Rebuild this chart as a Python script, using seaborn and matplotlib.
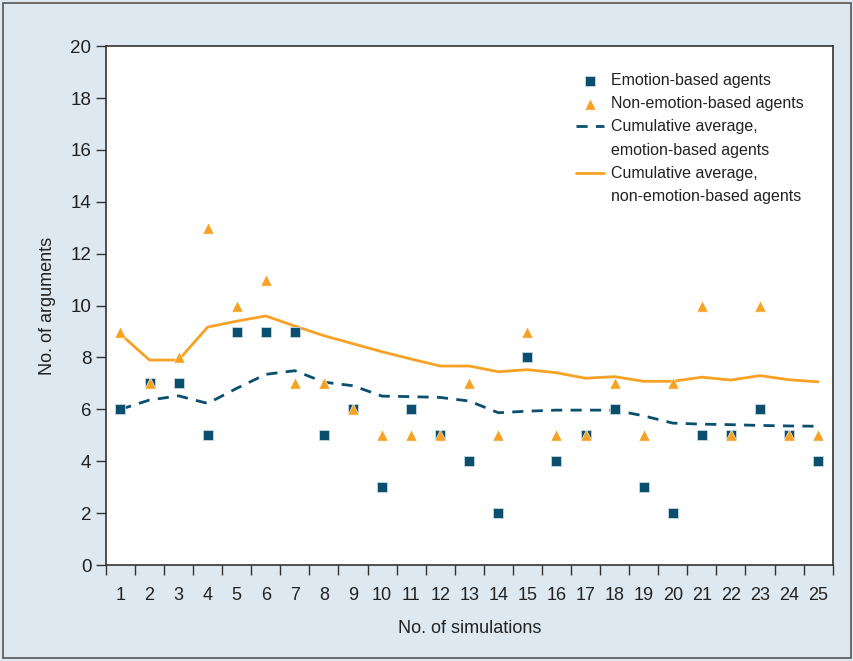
import numpy as np
import pandas as pd
import matplotlib
matplotlib.use("Agg")
import matplotlib.pyplot as plt
import seaborn as sns
from matplotlib.patches import Rectangle
from matplotlib.lines import Line2D

# ----- dados -----
simulacoes = list(range(1, 26))
emocao = [6, 7, 7, 5, 9, 9, 9, 5, 6, 3, 6, 5, 4, 2, 8, 4, 5, 6, 3, 2, 5, 5, 6, 5, 4]
sem_emocao = [9, 7, 8, 13, 10, 11, 7, 7, 6, 5, 5, 5, 7, 5, 9, 5, 5, 7, 5, 7, 10, 5, 10, 5, 5]
media_emocao = [6.0, 6.36, 6.52, 6.23, 6.81, 7.35, 7.49, 7.05, 6.91, 6.51, 6.49, 6.46, 6.32,
                5.87, 5.93, 5.97, 5.97, 5.97, 5.75, 5.47, 5.43, 5.41, 5.38, 5.36, 5.35]
media_sem_emocao = [8.9, 7.9, 7.9, 9.17, 9.4, 9.6, 9.21, 8.84, 8.53, 8.22, 7.94, 7.67, 7.67,
                    7.45, 7.53, 7.41, 7.2, 7.26, 7.08, 7.08, 7.24, 7.13, 7.3, 7.14, 7.06]

df = pd.DataFrame({
    'sim': simulacoes,
    'emocao': emocao,
    'sem_emocao': sem_emocao,
    'media_emocao': media_emocao,
    'media_sem_emocao': media_sem_emocao,
})

azul = '#0a4f6e'
laranja = '#f7a224'
fundo = '#dde8f0'

sns.set_style('ticks')
plt.rcParams['font.family'] = ['Liberation Sans', 'DejaVu Sans']

fig = plt.figure(figsize=(8.54, 6.61), dpi=100)
fig.patch.set_facecolor(fundo)
fig.patches.append(Rectangle((0.004, 0.004), 0.992, 0.992, transform=fig.transFigure,
                             fill=False, edgecolor='#555555', linewidth=1.2, zorder=0))
ax = fig.add_axes([0.124, 0.1452, 0.851, 0.785])
ax.set_facecolor('white')

sns.lineplot(data=df, x='sim', y='media_emocao', ax=ax, color=azul, linewidth=2,
             label='Cumulative average,')
ax.lines[-1].set_dashes([4, 3])
sns.lineplot(data=df, x='sim', y='media_sem_emocao', ax=ax, color=laranja, linewidth=2,
             label='Cumulative average,')
sns.scatterplot(data=df, x='sim', y='emocao', ax=ax, color=azul, marker='s', s=58,
                edgecolor='#c8d8e0', linewidth=0.6, label='Emotion-based agents', zorder=3)
sns.scatterplot(data=df, x='sim', y='sem_emocao', ax=ax, color=laranja, marker='^', s=65,
                edgecolor='white', linewidth=0.4, label='Non-emotion-based agents', zorder=4)

ax.set_xlim(0.5, 25.5)
ax.set_ylim(0, 20)
ax.set_yticks(range(0, 21, 2))
ax.set_xticks(np.arange(0.5, 26, 1))
ax.set_xticklabels([])
ax.set_xticks(simulacoes, minor=True)
ax.set_xticklabels([str(s) for s in simulacoes], minor=True)
ax.tick_params(axis='x', which='major', length=7, width=1, color='#333333')
ax.tick_params(axis='x', which='minor', length=0, pad=16, labelsize=13)
ax.tick_params(axis='y', length=7, width=1, color='#333333', labelsize=13.5)
for lab in ax.get_xticklabels(minor=True) + ax.get_yticklabels():
    lab.set_color('#222222')

for s in ax.spines.values():
    s.set_color('#333333')
    s.set_linewidth(1.2)

ax.set_xlabel('No. of simulations', fontsize=13, color='#222222', labelpad=11)
ax.set_ylabel('No. of arguments', fontsize=13, color='#222222', labelpad=10)

# legenda: segunda linha dos rótulos com um handle vazio
handles, labels = ax.get_legend_handles_labels()
vazio = Line2D([], [], linestyle='none')
leg_handles = [handles[2], handles[3], handles[0], vazio, handles[1], vazio]
leg_labels = [labels[2], labels[3], labels[0], 'emotion-based agents',
              labels[1], 'non-emotion-based agents']
leg = ax.legend(leg_handles, leg_labels,
                loc='upper left', bbox_to_anchor=(0.632, 0.97), frameon=False,
                fontsize=11.5, handlelength=1.7, handletextpad=0.45,
                labelspacing=0.52, borderaxespad=0.3)
for t in leg.get_texts():
    t.set_color('#222222')

fig.savefig('out.png', dpi=100, facecolor=fig.get_facecolor())
